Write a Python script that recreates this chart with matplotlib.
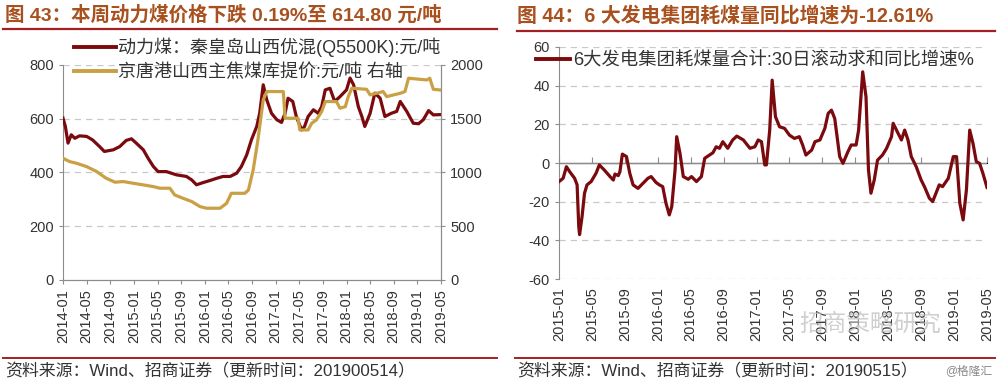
import matplotlib
matplotlib.use("Agg")
import matplotlib.pyplot as plt
from matplotlib.lines import Line2D

plt.rcParams['font.family'] = ['Liberation Sans', 'Noto Sans CJK SC', 'DejaVu Sans']
plt.rcParams['axes.unicode_minus'] = False

# ----------------------------- data -----------------------------
# left panel: months since 2014-01
left_ticks = ["2014-01", "2014-05", "2014-09", "2015-01", "2015-05", "2015-09",
              "2016-01", "2016-05", "2016-09", "2017-01", "2017-05", "2017-09",
              "2018-01", "2018-05", "2018-09", "2019-01", "2019-05"]
coal_x = [0, 0.4, 0.85, 1.4, 2.0, 2.8, 4.0, 5.0, 6.2, 7.0, 8.5, 9.6, 10.7, 11.6, 12.4,
          13.6, 14.4, 15.3, 16.1, 17.5, 19.2, 20.9, 21.8, 22.6, 23.7, 24.9, 26.0, 27.1,
          28.3, 29.4, 30.2, 31.1, 31.9, 32.8, 33.3, 33.9, 34.5, 35.3, 36.2, 37.0, 37.6,
          38.1, 38.9, 39.5, 40.4, 40.9, 41.5, 42.4, 43.2, 43.8, 44.4, 45.2, 46.0, 46.9,
          48.0, 48.6, 49.2, 50.0, 50.6, 51.1, 52.0, 52.8, 53.7, 54.5, 55.6, 56.5, 57.1,
          58.2, 59.3, 60.2, 61.0, 61.9, 62.7, 63.8]
coal_y = [602, 571, 509, 540, 527, 536, 534, 521, 496, 478, 484, 496, 519, 525, 509,
          484, 453, 422, 403, 403, 391, 385, 372, 354, 362, 370, 378, 385,
          385, 397, 422, 465, 521, 571, 620, 726, 670, 620, 596, 586, 620,
          676, 664, 608, 558, 571, 608, 633, 620, 645, 707, 713, 664, 682,
          707, 751, 726, 645, 608, 571, 620, 695, 676, 608, 620, 627, 664,
          627, 583, 581, 596, 630, 614, 615]
coking_x = [0, 1.1, 2.3, 4.0, 5.7, 7.3, 8.8, 10.2, 11.9, 13.6, 15.3, 16.4, 18.1, 18.9,
            20.3, 21.8, 23.2, 24.3, 26.6, 27.7, 28.5, 30.8, 31.4, 32.2, 33.0, 33.9, 34.5,
            37.3, 37.6, 39.8, 40.1, 41.5, 42.1, 42.9, 43.8, 44.4, 46.3, 46.9, 47.8, 48.3,
            48.9, 51.4, 52.0, 54.2, 54.8, 57.1, 57.9, 58.5, 61.6, 62.1, 62.7, 63.8]
coking_y = [1132, 1101, 1085, 1054, 1008, 946, 909, 915, 899, 884, 868, 853, 853, 791,
            760, 729, 682, 667, 667, 713, 806, 806, 837, 1023, 1302, 1674, 1752,
            1752, 1504, 1504, 1395, 1395, 1457, 1488, 1566, 1659, 1659, 1597, 1612, 1705,
            1783, 1773, 1721, 1752, 1705, 1736, 1752, 1876, 1860, 1876, 1773, 1767]

# right panel: months since 2015-01
right_ticks = ["2015-01", "2015-05", "2015-09", "2016-01", "2016-05", "2016-09",
               "2017-01", "2017-05", "2017-09", "2018-01", "2018-05", "2018-09",
               "2019-01", "2019-05"]
yoy_x = [0, 0.5, 0.9, 1.3, 1.9, 2.2, 2.4, 2.5, 2.8, 3.1, 3.4, 3.9, 4.5, 4.9, 5.5, 6.2,
         6.6, 6.8, 7.2, 7.4, 7.7, 8.2, 8.6, 9.0, 9.6, 10.2, 10.8, 11.2, 11.8, 12.2, 12.6,
         13.0, 13.4, 13.7, 14.1, 14.3, 14.7, 15.1, 15.7, 16.1, 16.7, 17.3, 17.7, 18.1,
         18.7, 19.1, 19.5, 19.9, 20.5, 21.1, 21.6, 22.4, 23.2, 23.8, 24.2, 24.6, 25.0,
         25.2, 25.6, 25.9, 26.3, 26.8, 27.4, 28.0, 28.6, 29.2, 29.6, 30.0, 30.7, 31.1,
         31.7, 32.3, 32.7, 33.1, 33.5, 34.1, 34.5, 35.1, 35.5, 36.1, 36.4, 36.9, 37.3,
         37.6, 37.9, 38.3, 38.7, 39.3, 39.8, 40.4, 40.6, 41.2, 41.6, 42.0, 42.4, 42.8,
         43.4, 44.0, 44.4, 45.0, 45.4, 45.8, 46.2, 46.6, 47.3, 47.9, 48.3, 48.7, 49.1,
         49.5, 49.9, 50.3, 50.7, 51.1, 51.5, 52.0]
yoy_y = [-9.6, -7.9, -1.9, -4.5, -7.9, -11.3, -32.8, -37.0, -27.7, -15.6, -11.3, -9.6,
         -5.3, -1.0, -3.6, -7.0, -8.8, -5.7, -6.5, -4.5, 4.6, 3.3, -5.3, -11.3, -13.1,
         -10.5, -7.9, -7.0, -10.1, -11.3, -12.2, -20.8, -26.8, -22.5, -3.6, 13.6,
         5.0, -7.0, -8.4, -7.0, -9.6, -7.0, 2.4, 3.6, 5.3, 8.4, 7.6, 11.0, 7.6, 11.9,
         13.9, 11.9, 7.6, 8.4, 11.9, 11.0, -1.0, -1.0, 17.0, 42.8, 23.9, 18.7, 17.9,
         14.4, 12.7, 13.6, 9.3, 4.1, 6.7, 11.0, 11.9, 17.9, 25.6, 27.3, 23.0, 3.3,
         -0.2, 5.8, 9.3, 9.3, 17.0, 47.1, 34.2, -3.6, -15.6, -8.8, 1.5, 4.1, 7.6,
         13.6, 20.5, 15.3, 11.9, 17.0, 11.9, 3.3, -1.9, -8.8, -12.2, -18.2, -19.9,
         -15.6, -11.3, -12.2, -7.9, 3.3, 3.3, -20.8, -29.4, -13.9, 17.0, 10.1, 0.7,
         -0.2, -5.3, -12.6]

RED = "#7A0A0E"
GOLD = "#C9A044"
TITLE_C = "#A8501E"
RULE_C = "#A31F24"
GRID_C = "#C8C8C8"
SPINE_C = "#8C8C8C"
TXT_C = "#333333"

fig = plt.figure(figsize=(10, 3.84), dpi=100)

# ----------------------------- left panel -----------------------------
ax = fig.add_axes([0.063, 0.271, 0.378, 0.56])
ax.plot(coal_x, coal_y, color=RED, lw=2.3, zorder=3)
ax.set_ylim(0, 800)
ax.set_yticks([0, 200, 400, 600, 800])
ax.set_xlim(0, 64)
ax.set_xticks(range(0, 65, 4))
ax.set_xticklabels(left_ticks, rotation=90)
for v in [200, 400, 600, 800]:
    ax.axhline(v, color=GRID_C, lw=0.9, ls=(0, (5, 4)), zorder=1)
ax2 = ax.twinx()
ax2.plot(coking_x, coking_y, color=GOLD, lw=2.3, zorder=2)
ax2.set_ylim(0, 2000)
ax2.set_yticks([0, 500, 1000, 1500, 2000])
for a in (ax, ax2):
    a.spines['top'].set_visible(False)
    for s in ('left', 'right', 'bottom'):
        a.spines[s].set_color(SPINE_C)
    a.tick_params(colors=SPINE_C, labelcolor=TXT_C, labelsize=10.5, length=3)
ax2.spines['left'].set_visible(False)

handles = [Line2D([], [], color=RED, lw=2.8), Line2D([], [], color=GOLD, lw=2.8)]
labels = ["动力煤：秦皇岛山西优混(Q5500K):元/吨", "京唐港山西主焦煤库提价:元/吨 右轴"]
ax2.legend(handles, labels, loc='upper left', bbox_to_anchor=(0.01, 1.16), frameon=False,
           fontsize=13, handlelength=2.3, handletextpad=0.15, labelspacing=0.35,
           borderaxespad=0, labelcolor=TXT_C)

# ----------------------------- right panel -----------------------------
bx = fig.add_axes([0.559, 0.273, 0.428, 0.605])
bx.plot(yoy_x, yoy_y, color=RED, lw=2.3, zorder=3)
bx.set_ylim(-60, 60)
bx.set_yticks([-60, -40, -20, 0, 20, 40, 60])
bx.set_xlim(0, 52)
bx.set_xticks(range(0, 53, 4))
bx.set_xticklabels(right_ticks, rotation=90)
for v in [-60, -40, -20, 20, 40, 60]:
    bx.axhline(v, color=GRID_C, lw=0.9, ls=(0, (5, 4)), zorder=1)
bx.axhline(0, color=SPINE_C, lw=1.0, zorder=2)
for s in ('top', 'right', 'bottom'):
    bx.spines[s].set_visible(False)
bx.spines['left'].set_color(SPINE_C)
bx.tick_params(axis='y', colors=SPINE_C, labelcolor=TXT_C, labelsize=10.5, length=3)
bx.tick_params(axis='x', colors=SPINE_C, labelcolor=TXT_C, labelsize=10.5, length=0, pad=6)
zx = bx.secondary_xaxis(0.5)
zx.set_xticks(range(0, 53, 4))
zx.set_xticklabels([])
zx.spines['bottom'].set_visible(False)
zx.tick_params(colors=SPINE_C, length=4)
bx.legend([Line2D([], [], color=RED, lw=2.8)], ["6大发电集团耗煤量合计:30日滚动求和同比增速%"],
          loc='upper left', bbox_to_anchor=(-0.072, 1.01), frameon=False, fontsize=13.2,
          handlelength=1.9, handletextpad=0.15, borderaxespad=0, labelcolor=TXT_C)

# ----------------------------- titles / footers -----------------------------
fig.text(0.005, 0.962, "图 43：本周动力煤价格下跌 0.19%至 614.80 元/吨", color=TITLE_C,
         fontsize=14, fontweight='bold', va='center')
fig.text(0.517, 0.96, "图 44：6 大发电集团耗煤量同比增速为-12.61%", color=TITLE_C,
         fontsize=14.3, fontweight='bold', va='center')
fig.add_artist(Line2D([0.003, 0.497], [0.925, 0.925], color=RULE_C, lw=1.6))
fig.add_artist(Line2D([0.517, 0.995], [0.92, 0.92], color=RULE_C, lw=1.6))
fig.add_artist(Line2D([0.003, 0.497], [0.068, 0.068], color=RULE_C, lw=1.4))
fig.add_artist(Line2D([0.515, 0.995], [0.068, 0.068], color=RULE_C, lw=1.4))
fig.text(0.005, 0.034, "资料来源：Wind、招商证券（更新时间：201900514）", color=TXT_C,
         fontsize=12.2, va='center')
fig.text(0.517, 0.034, "资料来源：Wind、招商证券（更新时间：20190515）", color=TXT_C,
         fontsize=12.2, va='center')
fig.text(0.992, 0.034, "@格隆汇", color="#888888", fontsize=8.5, va='center', ha='right')
fig.text(0.87, 0.155, "招商策略研究", color="#BBBBBB", fontsize=17, va='center',
         ha='center', alpha=0.7, zorder=10)

fig.savefig("out.png", dpi=100)
